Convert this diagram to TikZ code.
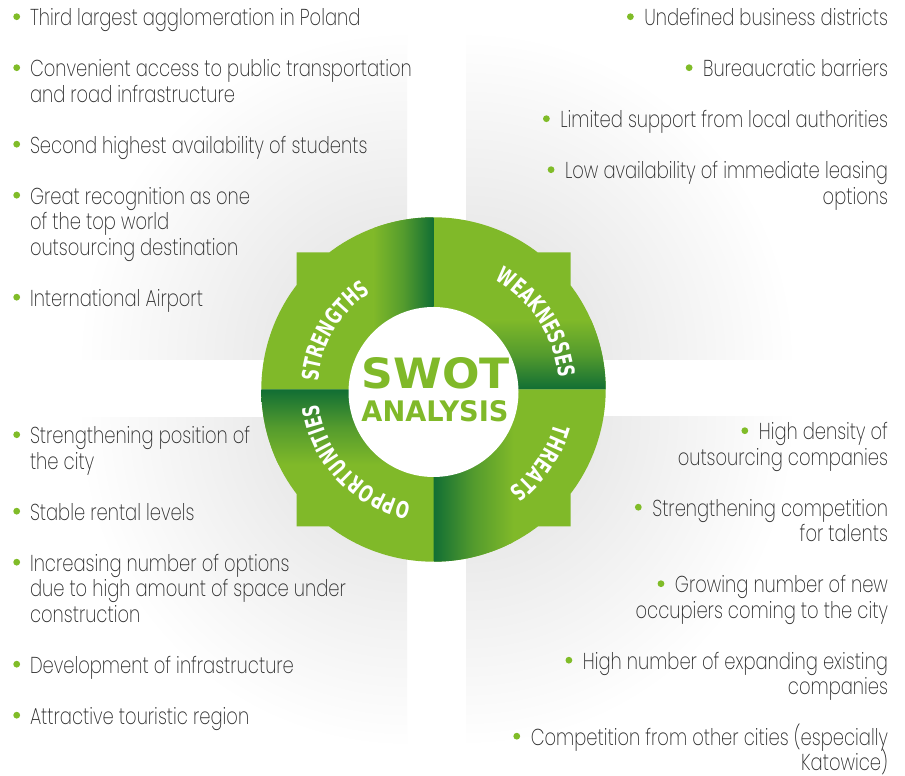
\documentclass[tikz,border=0pt]{standalone}
\usepackage{graphicx}
\usepackage{fontspec}
\setmainfont{Poppins}[UprightFont=* ExtraLight, FakeStretch=0.78]
\newfontfamily\ringfont{DejaVu Sans}[UprightFont=* Bold, FakeStretch=0.69]
\newfontfamily\swotfont{DejaVu Sans}[UprightFont=* Bold]
\usetikzlibrary{decorations.text}

\definecolor{swlight}{HTML}{80B929}
\definecolor{swdark}{HTML}{116E34}
\definecolor{dotgreen}{HTML}{80BC28}
\definecolor{txtgray}{HTML}{2B2B2B}
\definecolor{panelgray}{HTML}{DCDCDC}

\newcommand\itemfont{\fontsize{23}{25.5}\selectfont}

\tikzset{
  itemtxt/.style={inner sep=0pt, outer sep=0pt, font=\itemfont, text=txtgray},
  lline/.style={itemtxt, anchor=base west},
  rline/.style={itemtxt, anchor=base east},
  dot/.style={circle, fill=dotgreen, inner sep=0pt, minimum size=6.8pt},
  ringlabel/.style={decorate, decoration={text along path, text align=center,
      text color=white, text={|\ringfont\fontsize{23}{23}\selectfont|#1}}},
}

\begin{document}
\begin{tikzpicture}[x=1pt,y=1pt]
\useasboundingbox (0,0) rectangle (905,776);
\fill[white] (0,0) rectangle (905,776);

% soft grey panels around the central cross
\begin{scope}
  \clip (0,416) rectangle (407,776);
  \shade[inner color=panelgray, outer color=white] (407,416) circle (330);
\end{scope}
\begin{scope}
  \clip (466,416) rectangle (905,776);
  \shade[inner color=panelgray, outer color=white] (466,416) circle (330);
\end{scope}
\begin{scope}
  \clip (0,0) rectangle (407,358);
  \shade[inner color=panelgray, outer color=white] (407,358) circle (330);
\end{scope}
\begin{scope}
  \clip (466,0) rectangle (905,359);
  \shade[inner color=panelgray, outer color=white] (466,359) circle (330);
\end{scope}

% the four ring segments
\begin{scope}[shift={(433.5,386.5)}]
  % strengths
  \begin{scope}
    \clip (0,0) -- (180:172.2) arc[start angle=180,end angle=142.71,radius=172.2]
      -- (-137,137) -- (-104.3,137) arc[start angle=127.29,end angle=90,radius=172.2] -- cycle;
    \fill[swlight] (-180,0) rectangle (0,180);
    \shade[left color=swlight, right color=swdark, middle color=swlight!60!swdark] (-60,0) rectangle (0,180);
  \end{scope}
  % weaknesses
  \begin{scope}
    \clip (0,0) -- (90:172.2) arc[start angle=90,end angle=52.71,radius=172.2]
      -- (137,137) -- (137,104.3) arc[start angle=37.29,end angle=0,radius=172.2] -- cycle;
    \fill[swlight] (0,0) rectangle (180,180);
    \shade[top color=swlight, bottom color=swdark, middle color=swlight!60!swdark] (0,0) rectangle (180,70);
  \end{scope}
  % threats
  \begin{scope}
    \clip (0,0) -- (0:172.2) arc[start angle=0,end angle=-37.29,radius=172.2]
      -- (137,-137) -- (104.3,-137) arc[start angle=-52.71,end angle=-90,radius=172.2] -- cycle;
    \fill[swlight] (0,-180) rectangle (180,0);
    \shade[left color=swdark, right color=swlight, middle color=swlight!60!swdark] (0,-180) rectangle (80,0);
  \end{scope}
  % opportunities
  \begin{scope}
    \clip (0,0) -- (-90:172.2) arc[start angle=-90,end angle=-127.29,radius=172.2]
      -- (-137,-137) -- (-137,-104.3) arc[start angle=-142.71,end angle=-180,radius=172.2] -- cycle;
    \fill[swlight] (-180,-180) rectangle (0,0);
    \shade[top color=swdark, bottom color=swlight, middle color=swlight!60!swdark] (-180,-75) rectangle (0,0);
  \end{scope}
\end{scope}

% centre disc
\fill[white] (433.5,384) circle (85);
\node[inner sep=0pt, anchor=base, text=swlight] (swot) at (436,387)
  {\swotfont\resizebox{148pt}{31pt}{SWOT}};
\node[inner sep=0pt, anchor=base, text=swlight] (analysis) at (435,354.5)
  {\swotfont\resizebox{147pt}{21pt}{ANALYSIS}};

% ring labels
\begin{scope}[shift={(433.5,386.5)}]
  \path[ringlabel=STRENGTHS] (204.5:115.5) arc[start angle=204.5,end angle=94.5,radius=115.5];
  \path[ringlabel=WEAKNESSES] (88:125.7) arc[start angle=88,end angle=-22,radius=125.7];
  \path[ringlabel=THREATS] (20.5:125.7) arc[start angle=20.5,end angle=-89.5,radius=125.7];
  \path[ringlabel=OPPORTUNITIES] (-78:115.5) arc[start angle=-78,end angle=-196,radius=115.5];
\end{scope}

% strengths
\node[lline] (s1) at (30,750) {Third largest agglomeration in Poland};
\node[lline] (s2) at (30,699) {Convenient access to public transportation};
\node[lline] (s2b) at (30,673.5) {and road infrastructure};
\node[lline] (s3) at (30,622.5) {Second highest availability of students};
\node[lline] (s4) at (30,571.5) {Great recognition as one};
\node[lline] (s4b) at (30,546) {of the top world};
\node[lline] (s4c) at (30,520.5) {outsourcing destination};
\node[lline] (s5) at (30,469.5) {International Airport};
\foreach \n in {s1,s2,s3,s4,s5}
  \node[dot] (\n p) at ([shift={(-13.3,9.3)}]\n.base west) {};

% weaknesses
\node[rline] (w1) at (888,750) {Undefined business districts};
\node[rline] (w2) at (888,699) {Bureaucratic barriers};
\node[rline] (w3) at (888,648) {Limited support from local authorities};
\node[rline] (w4) at (888,597) {Low availability of immediate leasing};
\node[rline] (w4b) at (888,571.5) {options};
\foreach \n in {w1,w2,w3,w4}
  \node[dot] (\n p) at ([shift={(-14,9.3)}]\n.base west) {};

% opportunities
\node[lline] (o1) at (30,332) {Strengthening position of};
\node[lline] (o1b) at (30,306.5) {the city};
\node[lline] (o2) at (30,255.5) {Stable rental levels};
\node[lline] (o3) at (30,204.5) {Increasing number of options};
\node[lline] (o3b) at (30,179) {due to high amount of space under};
\node[lline] (o3c) at (30,153.5) {construction};
\node[lline] (o4) at (30,102.5) {Development of infrastructure};
\node[lline] (o5) at (30,51.5) {Attractive touristic region};
\foreach \n in {o1,o2,o3,o4,o5}
  \node[dot] (\n p) at ([shift={(-13.3,9.3)}]\n.base west) {};

% threats
\node[rline] (t1) at (888,336) {High density of};
\node[rline] (t1b) at (888,310.5) {outsourcing companies};
\node[rline] (t2) at (888,259.5) {Strengthening competition};
\node[rline] (t2b) at (888,234) {for talents};
\node[rline] (t3) at (888,183) {Growing number of new};
\node[rline] (t3b) at (888,157.5) {occupiers coming to the city};
\node[rline] (t4) at (888,106.5) {High number of expanding existing};
\node[rline] (t4b) at (888,81) {companies};
\node[rline] (t5) at (888,30.5) {Competition from other cities (especially};
\node[rline] (t5b) at (888,5.5) {Katowice)};
\foreach \n in {t1,t2,t3,t4,t5}
  \node[dot] (\n p) at ([shift={(-14,9.3)}]\n.base west) {};
\end{tikzpicture}
\end{document}
